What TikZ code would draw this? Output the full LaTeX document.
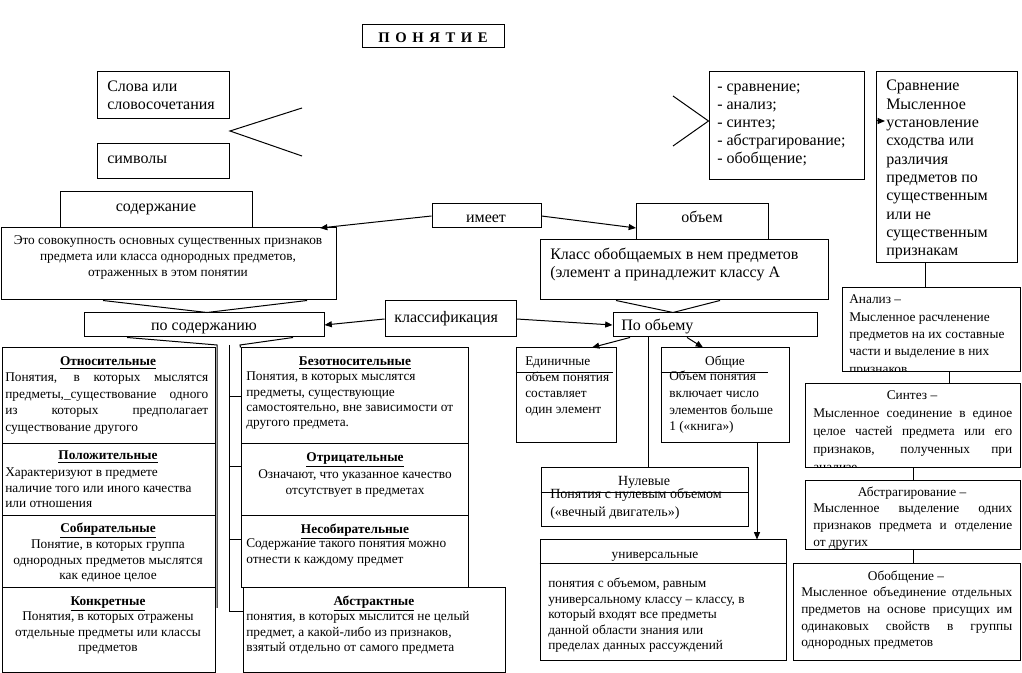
\documentclass[tikz,border=0pt]{standalone}
\usepackage{fontspec}
\setmainfont{Liberation Serif}
\usetikzlibrary{fit,arrows.meta}
\newlength\pxu \setlength\pxu{0.75pt}
\newcommand\jl[2]{\makebox[#1\pxu][s]{#2}}
\newcommand\hdr[1]{\underline{\textbf{#1}}}
\newcommand\mlL[1]{\begin{tabular}[t]{@{}l@{}}#1\end{tabular}}
\newcommand\mlC[1]{\begin{tabular}[t]{@{}c@{}}#1\end{tabular}}
\begin{document}
\begin{tikzpicture}[x=0.75pt,y=-0.75pt,
  box/.style={draw,line width=0.75pt,inner sep=0pt},
  ln/.style={line width=0.75pt},
  arr/.style={line width=0.75pt,-{Triangle[length=5.5pt,width=4.5pt]}},
  txl/.style={inner sep=0pt,anchor=base west},
  txc/.style={inner sep=0pt,anchor=base},
  fa/.style={font=\fontsize{12}{13.5}\selectfont},
  fb/.style={font=\fontsize{10}{11.5}\selectfont},
]
\useasboundingbox (0,0) rectangle (1022,673);

% title
\node[box,fit={(362,25) (504,48)}] (title) {};
\node[txc,font=\bfseries\fontsize{11}{13}\selectfont] (titleT) at (433,43)
  {П\hspace{4.2pt}О\hspace{4.2pt}Н\hspace{4.2pt}Я\hspace{4.2pt}Т\hspace{4.2pt}И\hspace{4.2pt}Е};

% top left
\node[box,fit={(97,72) (229,119)}] (slova) {};
\node[txl,fa] (slovaT) at (107,92) {\mlL{Слова или\\словосочетания}};
\node[box,fit={(97,144) (229,179)}] (simv) {};
\node[txl,fa] (simvT) at (107,164) {символы};
\coordinate (cl1) at (302,108);
\coordinate (cl2) at (230,131);
\coordinate (cl3) at (302,156);
\draw[ln] (cl1) -- (cl2) -- (cl3);

% top right
\node[box,fit={(709,72) (864,180)}] (list) {};
\node[txl,fa] (listT) at (717,92) {\mlL{- сравнение;\\- анализ;\\- синтез;\\- абстрагирование;\\- обобщение;}};
\coordinate (cr1) at (673,96);
\coordinate (cr3) at (673,146);
\draw[ln] (cr1) -- (list.west |- 0,121) -- (cr3);
\node[box,fit={(876,72) (1017,263)}] (srav) {};
\node[txl,font=\fontsize{12}{13.75}\selectfont] (sravT) at (886,91)
  {\mlL{Сравнение\\Мысленное\\установление\\сходства или\\различия\\предметов по\\существенным\\или не\\существенным\\признакам}};
\coordinate (sa) at (877,121);
\draw[arr] (sa) -- (885,121);

% содержание
\node[box,fit={(60,192) (252,228)}] (sod) {};
\node[txc,fa] (sodT) at (156,212) {содержание};
\node[box,fit={(1,228) (336,300)}] (sodb) {};
\node[txc,font=\fontsize{10}{12}\selectfont] (sodbT) at (168,245)
  {\mlC{Это совокупность основных существенных признаков\\предмета или класса однородных предметов,\\отраженных в этом понятии}};

% имеет
\node[box,fit={(432,204) (541,228)}] (imeet) {};
\node[txc,fa] (imeetT) at (486,223) {имеет};
\coordinate (imL) at (320,228);
\coordinate (imR) at (636,228);
\draw[arr] (imeet.west) -- (imL);
\draw[arr] (imeet.east) -- (imR);

% объем
\node[box,fit={(636,204) (768,240)}] (obj) {};
\node[txc,fa] (objT) at (702,223) {объем};
\node[box,fit={(540,240) (828,300)}] (klassob) {};
\node[txl,fa] (klassobT) at (550,260) {\mlL{Класс обобщаемых в нем предметов\\(элемент а принадлежит классу А}};

% классификация
\node[box,fit={(385,301) (516,337)}] (klf) {};
\node[txl,fa] (klfT) at (394,323) {классификация};
\node[box,fit={(84,313) (324,337)}] (posod) {};
\node[txc,fa] (posodT) at (204,331) {по содержанию};
\node[box,fit={(613,313) (817,337)}] (pobj) {};
\node[txl,fa] (pobjT) at (621,331) {По обьему};
\draw[arr] (klf.west) -- (posod.east);
\draw[arr] (klf.east) -- (pobj.west);

% V connectors
\draw[ln] (sodb.south -| 103,0) -- (posod.north -| 207,0) -- (sodb.south -| 307,0);
\draw[ln] (klassob.south -| 616,0) -- (pobj.north -| 673,0) -- (klassob.south -| 720,0);

% left columns
\node[box,fit={(2,348) (215,444)}] (otn) {};
\node[box,fit={(2,444) (215,516)}] (pol) {};
\node[box,fit={(2,516) (215,588)}] (sob) {};
\node[box,fit={(2,588) (215,672)}] (konk) {};
\node[txc,fb] (otnH) at (108,366) {\hdr{Относительные}};
\node[txl,font=\fontsize{10}{12.3}\selectfont] (otnT) at (5,382)
  {\mlL{\jl{203}{Понятия, в которых мыслятся}\\\jl{203}{предметы,\_существование одного}\\\jl{203}{из которых предполагает}\\существование другого}};
\node[txc,fb] (polH) at (108,460) {\hdr{Положительные}};
\node[txl,fb] (polT) at (5,477) {\mlL{Характеризуют в предмете\\наличие того или иного качества\\или отношения}};
\node[txc,fb] (sobH) at (108,533) {\hdr{Собирательные}};
\node[txc,fb] (sobT) at (108,549) {\mlC{Понятие, в которых группа\\однородных предметов мыслятся\\как единое целое}};
\node[txc,fb] (konkH) at (108,606) {\hdr{Конкретные}};
\node[txc,fb] (konkT) at (108,621) {\mlC{Понятия, в которых отражены\\отдельные предметы или классы\\предметов}};

\node[box,fit={(241,348) (468,444)}] (bez) {};
\node[box,fit={(241,444) (468,516)}] (otr) {};
\node[box,fit={(241,516) (468,588)}] (nesob) {};
\node[box,fit={(243,588) (505,672)}] (abs) {};
\node[txc,fb] (bezH) at (355,366) {\hdr{Безотносительные}};
\node[txl,fb] (bezT) at (246,381) {\mlL{Понятия, в которых мыслятся\\предметы, существующие\\самостоятельно, вне зависимости от\\другого предмета.}};
\node[txc,fb] (otrH) at (355,462) {\hdr{Отрицательные}};
\node[txc,fb] (otrT) at (355,479) {\mlC{Означают, что указанное качество\\отсутствует в предметах}};
\node[txc,fb] (nesobH) at (355,534) {\hdr{Несобирательные}};
\node[txl,fb] (nesobT) at (246,548) {\mlL{Содержание такого понятия можно\\отнести к каждому предмет}};
\node[txc,fb] (absH) at (374,606) {\hdr{Абстрактные}};
\node[txl,fb] (absT) at (246,621) {\mlL{понятия, в которых мыслится не целый\\предмет, а какой-либо из признаков,\\взятый отдельно от самого предмета}};

% connectors under по содержанию
\draw[ln] (posod.south -| 127,0) -- (217,345) -- (217,608);
\draw[ln] (posod.south -| 293,0) -- (240,345) -- (bez.north west);
\draw[ln] (229,345) -- (229,612) -- (abs.west |- 0,612);
\draw[ln] (229,397) -- (bez.west |- 0,397);
\draw[ln] (229,467) -- (otr.west |- 0,467);
\draw[ln] (229,540) -- (nesob.west |- 0,540);

% по объему branch
\node[box,fit={(516,348) (616,443)}] (edin) {};
\node[txl,font=\fontsize{10}{12}\selectfont] (edinT) at (525,366) {\mlL{Единичные\\объем понятия\\составляет\\один элемент}};
\draw[ln] (edin.west |- 0,373) -- (613,373);
\node[box,fit={(661,348) (789,443)}] (obsh) {};
\node[txc,fb] (obshH) at (725,366) {Общие};
\node[txl,font=\fontsize{10}{12.4}\selectfont] (obshT) at (669,381) {\mlL{Объем понятия\\включает число\\элементов больше\\1 («книга»)}};
\draw[ln] (obsh.west |- 0,373) -- (768,373);
\draw[arr] (pobj.south -| 630,0) -- (edin.north -| 592,0);
\draw[arr] (pobj.south -| 687,0) -- (obsh.north -| 703,0);

\node[box,fit={(541,468) (748,527)}] (nul) {};
\draw[ln] (pobj.south -| 648,0) -- (nul.north -| 648,0);
\node[txc,font=\fontsize{10.5}{13.5}\selectfont] (nulH) at (644,486) {Нулевые};
\draw[ln] (nul.west |- 0,493) -- (nul.east |- 0,493);
\node[txl,font=\fontsize{10.5}{13.5}\selectfont] (nulT) at (550,499) {\mlL{Понятия с нулевым объемом\\(«вечный двигатель»)}};

\node[box,fit={(540,540) (786,660)}] (univ) {};
\draw[arr] (obsh.south -| 757,0) -- (univ.north -| 757,0);
\node[txc,fb] (univH) at (655,559) {универсальные};
\draw[ln] (univ.west |- 0,564) -- (univ.east |- 0,564);
\node[txl,font=\fontsize{10}{11.6}\selectfont] (univT) at (548,588) {\mlL{понятия с объемом, равным\\универсальному классу – классу, в\\который входят все предметы\\данной области знания или\\пределах данных рассуждений}};

% right column
\node[box,fit={(842,288) (1020,372)}] (anal) {};
\begin{scope}
\clip (842,288) rectangle (1020,372);
\node[txl,font=\fontsize{10}{13}\selectfont] (analT) at (849,304) {\mlL{Анализ –\\Мысленное расчленение\\предметов на их составные\\части и выделение в них\\признаков}};
\end{scope}
\draw[ln] (srav.south -| 925,0) -- (anal.north -| 925,0);

\node[box,fit={(805,384) (1020,468)}] (sint) {};
\begin{scope}
\clip (805,384) rectangle (1020,468);
\node[txc,font=\fontsize{10}{13.5}\selectfont] (sintH) at (912,400) {Синтез –};
\node[txl,font=\fontsize{10}{13.5}\selectfont] (sintT) at (813,418) {\mlL{\jl{199}{Мысленное соединение в единое}\\\jl{199}{целое частей предмета или его}\\\jl{199}{признаков, полученных при}\\анализе}};
\end{scope}
\draw[ln] (anal.south -| 949,0) -- (sint.north -| 949,0);

\node[box,fit={(805,481) (1020,550)}] (abstr) {};
\node[txc,font=\fontsize{10}{12.4}\selectfont] (abstrH) at (912,497) {Абстрагирование –};
\node[txl,font=\fontsize{10}{12.4}\selectfont] (abstrT) at (813,513) {\mlL{\jl{199}{Мысленное выделение одних}\\\jl{199}{признаков предмета и отделение}\\от других}};
\draw[ln] (sint.south -| 913,0) -- (abstr.north -| 913,0);

\node[box,fit={(793,564) (1020,660)}] (obob) {};
\node[txc,font=\fontsize{10}{12.5}\selectfont] (obobH) at (906,581) {Обобщение –};
\node[txl,font=\fontsize{10}{12.5}\selectfont] (obobT) at (801,597) {\mlL{\jl{211}{Мысленное объединение отдельных}\\\jl{211}{предметов на основе присущих им}\\\jl{211}{одинаковых свойств в группы}\\однородных предметов}};
\draw[ln] (abstr.south -| 913,0) -- (obob.north -| 913,0);
\end{tikzpicture}
\end{document}
